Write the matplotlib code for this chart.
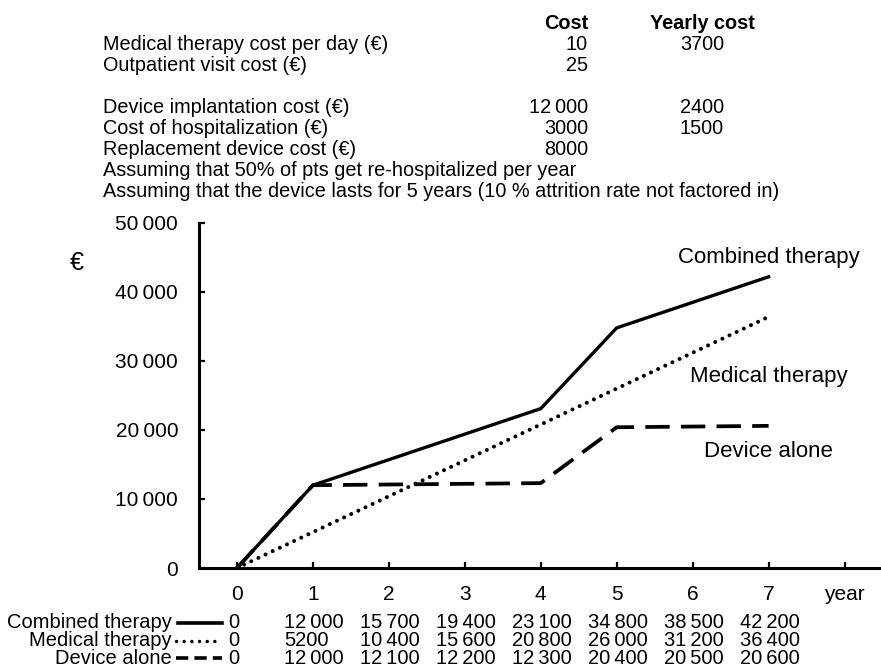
import matplotlib
matplotlib.use("Agg")
import matplotlib.pyplot as plt
from matplotlib.lines import Line2D
from matplotlib.transforms import blended_transform_factory

plt.rcParams['font.family'] = ['Liberation Sans', 'DejaVu Sans']

# ---- data ----
years = [0, 1, 2, 3, 4, 5, 6, 7]
combined = [0, 12000, 15700, 19400, 23100, 34800, 38500, 42200]
medical = [0, 5200, 10400, 15600, 20800, 26000, 31200, 36400]
device = [0, 12000, 12100, 12200, 12300, 20400, 20500, 20600]
series_names = ["Combined therapy", "Medical therapy", "Device alone"]

xtick_vals = [0, 1, 2, 3, 4, 5, 6, 7, 8]
xtick_labels = ["0", "1", "2", "3", "4", "5", "6", "7", "year"]
ytick_vals = [0, 10000, 20000, 30000, 40000, 50000]

cost_items = ["Medical therapy cost per day (€)", "Outpatient visit cost (€)", "",
              "Device implantation cost (€)", "Cost of hospitalization (€)",
              "Replacement device cost (€)",
              "Assuming that 50% of pts get re-hospitalized per year",
              "Assuming that the device lasts for 5 years (10 % attrition rate not factored in)"]
cost_values = ["10", "25", "", "12\u2009000", "3000", "8000", "", ""]
yearly_values = ["3700", "", "", "2400", "1500", "", "", ""]

W, H = 881, 669


def fmt(v):
    if v >= 10000:
        return f"{v:,}".replace(",", "\u2009")
    return str(v)


fig = plt.figure(figsize=(W / 100, H / 100), dpi=100)
fig.patch.set_facecolor("white")

def fy(py):
    return 1 - py / H

def fx(px):
    return px / W

ax = fig.add_axes([fx(199), fy(568), 1 - fx(199), fy(223) - fy(568)])
ax.set_xlim(-0.5, 8.48)
ax.set_ylim(0, 50000)

styles = {
    "Combined therapy": dict(color="black", lw=2.4, linestyle="-", solid_joinstyle="miter"),
    "Medical therapy": dict(color="black", lw=2.9, linestyle=(0, (0.01, 1.95)), dash_capstyle="round"),
    "Device alone": dict(color="black", lw=2.7, linestyle=(0, (6.5, 3.0)), dash_capstyle="butt"),
}
sym_styles = {
    "Combined therapy": dict(color="black", lw=2.6, linestyle="-"),
    "Medical therapy": dict(color="black", lw=2.5, linestyle=(0, (0.01, 2.2)), dash_capstyle="round"),
    "Device alone": dict(color="black", lw=2.6, linestyle=(0, (3.4, 1.7)), dash_capstyle="butt"),
}
data = {"Combined therapy": combined, "Medical therapy": medical, "Device alone": device}
for name in series_names:
    ax.plot(years, data[name], **styles[name])

for s in ["top", "right"]:
    ax.spines[s].set_visible(False)
for s in ["left", "bottom"]:
    ax.spines[s].set_linewidth(2.2)
    ax.spines[s].set_color("black")

ax.set_xticks(xtick_vals)
ax.set_xticklabels(xtick_labels)
ax.set_yticks(ytick_vals)
ax.set_yticklabels([fmt(v) for v in ytick_vals])
ax.tick_params(axis="both", direction="in", length=4.5, width=1.6, labelsize=15, color="black")
ax.tick_params(axis="x", pad=12.5)
ax.tick_params(axis="y", pad=15)

# series labels on chart
ax.text(7, 44200, "Combined therapy", ha="center", va="baseline", fontsize=16)
ax.text(7, 26950, "Medical therapy", ha="center", va="baseline", fontsize=16)
ax.text(7, 16084, "Device alone", ha="center", va="baseline", fontsize=16)

fig.text(fx(77), fy(263), "€", ha="center", va="center", fontsize=18)

# header table
TS = 14.3
fig.text(fx(588), fy(29), "Cost", ha="right", va="baseline", fontsize=TS, fontweight="bold")
fig.text(fx(702), fy(29), "Yearly cost", ha="center", va="baseline", fontsize=TS, fontweight="bold")
baselines = [50, 71, 92, 113, 134, 155, 176, 197]
for lab, cv, yv, b in zip(cost_items, cost_values, yearly_values, baselines):
    if lab:
        fig.text(fx(103), fy(b), lab, ha="left", va="baseline", fontsize=TS)
    if cv:
        fig.text(fx(588), fy(b), cv, ha="right", va="baseline", fontsize=TS)
    if yv:
        fig.text(fx(702), fy(b), yv, ha="center", va="baseline", fontsize=TS)

# bottom data table (each column as one multi-line text block)
tr = blended_transform_factory(ax.transData, fig.transFigure)
BS = 14.5
LS = 0.92
last_base = 664
row_mid = [623, 641, 658]
sym_start = [178, 176, 176]
fig.text(fx(172), fy(last_base), "\n".join(series_names), ha="right", va="baseline",
         multialignment="right", fontsize=BS, linespacing=LS)
for name, m, ss in zip(series_names, row_mid, sym_start):
    fig.add_artist(Line2D([fx(ss), fx(222)], [fy(m), fy(m)], transform=fig.transFigure,
                          **sym_styles[name]))
ax.text(-0.04, fy(last_base), "\n".join(fmt(data[n][0]) for n in series_names), transform=tr,
        ha="center", va="baseline", multialignment="center", fontsize=BS, linespacing=LS)
for i, yr in enumerate(years[1:], start=1):
    col = "\n".join(fmt(data[n][i]) for n in series_names)
    ax.text(yr - 0.38, fy(last_base), col, transform=tr, ha="left", va="baseline",
            multialignment="left", fontsize=BS, linespacing=LS)

fig.savefig("out.png", dpi=100, facecolor="white")
